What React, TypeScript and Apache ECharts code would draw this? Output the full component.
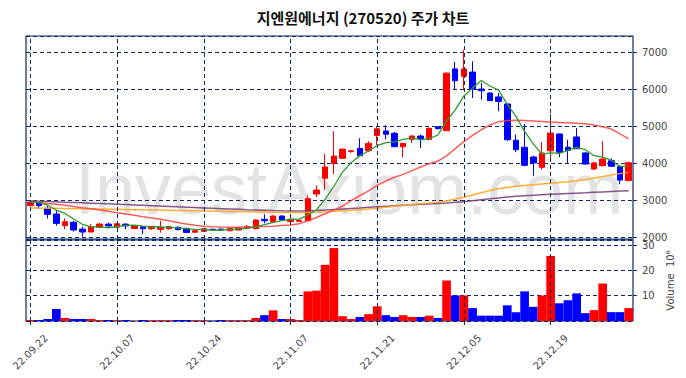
import React, { useEffect, useRef } from "react";
import * as echarts from "echarts";

const TITLE = "지엔원에너지 (270520) 주가 차트";
const WATERMARK = "InvestAxiom.com";

const dates = [
  "22.09.22","22.09.23","22.09.26","22.09.27","22.09.28","22.09.29","22.09.30","22.10.04","22.10.05","22.10.06",
  "22.10.07","22.10.11","22.10.12","22.10.13","22.10.14","22.10.17","22.10.18","22.10.19","22.10.20","22.10.21",
  "22.10.24","22.10.25","22.10.26","22.10.27","22.10.28","22.10.31","22.11.01","22.11.02","22.11.03","22.11.04",
  "22.11.07","22.11.08","22.11.09","22.11.10","22.11.11","22.11.14","22.11.15","22.11.16","22.11.17","22.11.18",
  "22.11.21","22.11.22","22.11.23","22.11.24","22.11.25","22.11.28","22.11.29","22.11.30","22.12.01","22.12.02",
  "22.12.05","22.12.06","22.12.07","22.12.08","22.12.09","22.12.12","22.12.13","22.12.14","22.12.15","22.12.16",
  "22.12.19","22.12.20","22.12.21","22.12.22","22.12.23","22.12.26","22.12.27","22.12.28","22.12.29","23.01.02",
];

const tickIndexes = [0, 10, 20, 30, 40, 50, 60];

const opens = [
  2850,2940,2780,2625,2310,2400,2215,2135,2265,2350,
  2265,2350,2230,2280,2225,2210,2225,2265,2235,2130,
  2155,2210,2215,2170,2190,2240,2225,2480,2415,2570,
  2415,2425,2440,3165,3595,4000,4135,4320,4405,4340,
  4755,4875,4815,4450,4650,4740,4650,4990,4885,6560,
  6360,6475,6015,5905,5800,5610,4625,4435,4170,3890,
  4340,4795,4435,4715,4280,3845,3935,4070,3910,3530,
];
const closes = [
  2950,2850,2615,2370,2415,2190,2135,2280,2350,2300,
  2360,2300,2300,2225,2265,2265,2280,2200,2125,2170,
  2225,2200,2195,2235,2250,2280,2460,2440,2570,2460,
  2480,2445,3040,3275,3900,4195,4385,4340,4205,4540,
  4935,4790,4450,4540,4740,4670,4950,4940,6445,6240,
  6560,6015,5970,5700,5680,4640,4370,3945,4010,4280,
  4820,4300,4350,4395,3980,4010,4115,3920,3545,4015,
];
const lows = [
  2840,2760,2500,2305,2210,2145,2010,2130,2235,2280,
  2250,2210,2220,2080,2190,2115,2200,2180,2120,2110,
  2140,2190,2180,2160,2180,2225,2210,2370,2400,2440,
  2390,2410,2430,3090,3275,3710,4120,4280,4200,4300,
  4500,4650,4440,4160,4550,4415,4620,4920,4880,6015,
  6015,5770,5725,5690,5410,4610,4300,3920,3665,3825,
  4110,4170,4010,4395,3960,3810,3920,3900,3430,3520,
];
const highs = [
  2975,2950,2840,2730,2505,2440,2280,2350,2390,2390,
  2380,2370,2320,2300,2280,2440,2300,2280,2250,2190,
  2240,2225,2230,2250,2265,2330,2480,2615,2585,2585,
  2500,2460,3130,3400,4260,4875,4400,4350,4680,4600,
  5000,5030,4850,4560,4760,4780,4970,5010,6460,6750,
  7080,6770,6180,5930,5905,5620,4775,5065,4210,4580,
  5340,4810,4640,4960,4300,4040,4600,4130,3930,4045,
];
const volumes = [
  0.4,0.4,0.8,4.7,1.2,0.8,0.8,0.8,0.4,0.4,
  0.3,0.4,0.1,0.4,0.3,0.3,0.3,0.4,0.4,0.3,
  0.3,0.1,0.4,0.3,0.3,0.3,1.2,2.3,4.2,0.8,
  0.8,0.4,11.7,12.0,22.2,28.8,1.9,0.8,1.6,2.7,
  5.8,2.3,1.6,2.3,1.6,1.6,2.1,1.2,16.0,10.1,
  10.1,5.1,2.1,2.1,2.1,6.2,3.5,11.7,5.6,10.1,
  25.7,7.0,8.2,10.9,3.1,4.3,14.8,3.5,3.5,5.1,
];
const ma5 = [
  2940,2940,2863,2727,2640,2488,2345,2278,2274,2251,
  2285,2318,2322,2297,2290,2271,2267,2247,2227,2208,
  2200,2184,2183,2205,2221,2232,2284,2333,2400,2442,
  2482,2479,2599,2740,3028,3371,3759,4019,4205,4333,
  4481,4562,4584,4651,4691,4638,4670,4768,5149,5449,
  5827,6040,6246,6097,5985,5601,5272,4867,4529,4249,
  4285,4271,4352,4429,4369,4207,4170,4084,3914,3921,
];
const ma20 = [
  2950,2935,2910,2890,2860,2830,2795,2765,2735,2700,
  2660,2625,2590,2550,2515,2480,2440,2395,2355,2320,
  2295,2280,2270,2265,2265,2270,2275,2285,2295,2310,
  2325,2360,2440,2530,2630,2730,2840,2990,3120,3250,
  3400,3520,3620,3700,3800,3900,3990,4060,4200,4400,
  4590,4760,4910,5040,5130,5160,5165,5160,5150,5135,
  5120,5110,5100,5090,5070,5040,4990,4930,4800,4660,
];
const ma60 = [
  2790,2785,2782,2778,2774,2770,2766,2762,2758,2754,
  2750,2746,2742,2738,2734,2730,2726,2722,2718,2713,
  2708,2703,2698,2694,2690,2686,2682,2678,2672,2666,
  2662,2662,2668,2676,2686,2698,2712,2726,2740,2760,
  2785,2810,2835,2860,2885,2905,2925,2945,2980,3030,
  3080,3140,3200,3260,3310,3350,3380,3400,3420,3440,
  3460,3480,3500,3525,3560,3600,3640,3680,3720,3760,
];
const ma120 = [
  2980,2972,2963,2955,2946,2937,2928,2919,2910,2900,
  2890,2880,2870,2860,2850,2840,2830,2820,2810,2800,
  2790,2780,2770,2760,2750,2740,2732,2724,2716,2710,
  2705,2706,2712,2722,2734,2748,2762,2776,2790,2805,
  2820,2835,2850,2864,2876,2888,2898,2908,2922,2940,
  2960,2985,3010,3035,3060,3085,3105,3120,3132,3145,
  3158,3170,3180,3190,3200,3212,3224,3236,3246,3256,
];

const NAVY = "#0d2a66";
const UP = "#ff0000";
const DOWN = "#0000ff";
const LABEL_FONT = "DejaVu Sans";

export default function App() {
  const ref = useRef<HTMLDivElement>(null);

  useEffect(() => {
    if (!ref.current) return;
    const chart = echarts.init(ref.current, undefined, { renderer: "svg" });
    const ohlc = opens.map((o, i) => [o, closes[i], lows[i], highs[i]]);
    const volData = volumes.map((v, i) => ({
      value: v,
      itemStyle: { color: closes[i] >= opens[i] ? UP : DOWN },
    }));
    const showTick = (idx: number) => tickIndexes.indexOf(idx) >= 0;
    const vLine = {
      silent: true,
      symbol: ["none", "none"],
      label: { show: false },
      lineStyle: { type: [4, 3], color: NAVY, width: 1 },
      data: tickIndexes.map((i) => ({ xAxis: dates[i] })),
    };
    const dash = { show: true, lineStyle: { type: [4, 3], color: NAVY, width: 1 } };

    chart.setOption({
      animation: false,
      backgroundColor: "#ffffff",
      textStyle: { fontFamily: LABEL_FONT },
      graphic: [
        {
          type: "text",
          x: 75,
          y: 189,
          z: 0,
          silent: true,
          style: {
            text: WATERMARK,
            fontSize: 72,
            fontFamily: "Liberation Sans",
            fill: "#e3e3e3",
            verticalAlign: "middle",
          },
        },
        {
          type: "text",
          x: 363,
          y: 17,
          style: {
            text: TITLE,
            align: "center",
            verticalAlign: "middle",
            fontSize: 15,
            fontWeight: "bold",
            fontFamily: "Noto Sans CJK KR",
            fill: "#111",
          },
        },
      ],
      grid: [
        { left: 26, top: 36, width: 607, height: 203, show: true, borderColor: NAVY, borderWidth: 1.2 },
        { left: 26, top: 240, width: 607, height: 81, show: true, borderColor: NAVY, borderWidth: 1.2 },
      ],
      xAxis: [
        {
          type: "category",
          gridIndex: 0,
          data: dates,
          boundaryGap: true,
          axisLine: { show: false },
          axisTick: { show: false },
          axisLabel: { show: false },
          splitLine: { show: false },
        },
        {
          type: "category",
          gridIndex: 1,
          data: dates,
          boundaryGap: true,
          axisLine: { show: false },
          axisTick: {
            show: true,
            alignWithLabel: true,
            interval: (idx: number) => showTick(idx),
            length: 4,
            lineStyle: { color: NAVY },
          },
          axisLabel: {
            interval: (idx: number) => showTick(idx),
            rotate: 45,
            align: "center",
            verticalAlign: "middle",
            margin: 31,
            fontSize: 10,
            fontFamily: LABEL_FONT,
            color: "#444",
          },
          splitLine: { show: false },
        },
      ],
      yAxis: [
        {
          type: "value",
          gridIndex: 0,
          position: "right",
          min: 1946,
          max: 7454,
          splitNumber: 5,
          axisLine: { show: false },
          axisTick: { show: true, length: 4, lineStyle: { color: NAVY } },
          axisLabel: {
            showMinLabel: false,
            showMaxLabel: false,
            margin: 9,
            fontSize: 10,
            fontFamily: LABEL_FONT,
            color: "#444",
            formatter: (v: number) => (v % 1000 === 0 ? String(v) : ""),
          },
          splitLine: dash,
        },
        {
          type: "value",
          gridIndex: 1,
          position: "right",
          min: 0,
          max: 32,
          interval: 10,
          name: "Volume  10\u2076",
          nameLocation: "middle",
          nameRotate: 90,
          nameGap: 32,
          nameTextStyle: { fontSize: 10, fontFamily: LABEL_FONT, color: "#444" },
          axisLine: { show: false },
          axisTick: { show: true, length: 4, lineStyle: { color: NAVY } },
          axisLabel: {
            showMinLabel: false,
            showMaxLabel: false,
            margin: 9,
            fontSize: 10,
            fontFamily: LABEL_FONT,
            color: "#444",
            formatter: (v: number) => (v > 0 && v % 10 === 0 ? String(v) : ""),
          },
          splitLine: dash,
        },
      ],
      series: [
        {
          type: "line",
          xAxisIndex: 0,
          yAxisIndex: 0,
          data: dates.map(() => null),
          symbol: "none",
          z: 1,
          markLine: vLine,
        },
        {
          type: "line",
          xAxisIndex: 1,
          yAxisIndex: 1,
          data: dates.map(() => null),
          symbol: "none",
          z: 1,
          markLine: vLine,
        },
        {
          type: "candlestick",
          xAxisIndex: 0,
          yAxisIndex: 0,
          data: ohlc,
          barWidth: 6,
          z: 3,
          itemStyle: {
            color: UP,
            color0: DOWN,
            borderColor: UP,
            borderColor0: DOWN,
            borderWidth: 1,
          },
        },
        {
          type: "bar",
          xAxisIndex: 1,
          yAxisIndex: 1,
          data: volData,
          barCategoryGap: "0%",
          barWidth: "100%",
          z: 3,
        },
        {
          type: "line",
          xAxisIndex: 0,
          yAxisIndex: 0,
          data: ma120,
          symbol: "none",
          z: 4,
          lineStyle: { color: "#6e3a78", width: 1.5, opacity: 0.85 },
        },
        {
          type: "line",
          xAxisIndex: 0,
          yAxisIndex: 0,
          data: ma60,
          symbol: "none",
          z: 4,
          lineStyle: { color: "#ffa51f", width: 1.5, opacity: 0.9 },
        },
        {
          type: "line",
          xAxisIndex: 0,
          yAxisIndex: 0,
          data: ma20,
          symbol: "none",
          z: 4,
          lineStyle: { color: "#ff4040", width: 1.5, opacity: 0.85 },
        },
        {
          type: "line",
          xAxisIndex: 0,
          yAxisIndex: 0,
          data: ma5,
          symbol: "none",
          z: 5,
          lineStyle: { color: "#2e9a2e", width: 1.3 },
        },
      ],
    });
    return () => chart.dispose();
  }, []);

  return (
    <div
      ref={ref}
      style={{ position: "fixed", left: 0, top: 0, width: 686, height: 378, background: "#fff" }}
    />
  );
}
